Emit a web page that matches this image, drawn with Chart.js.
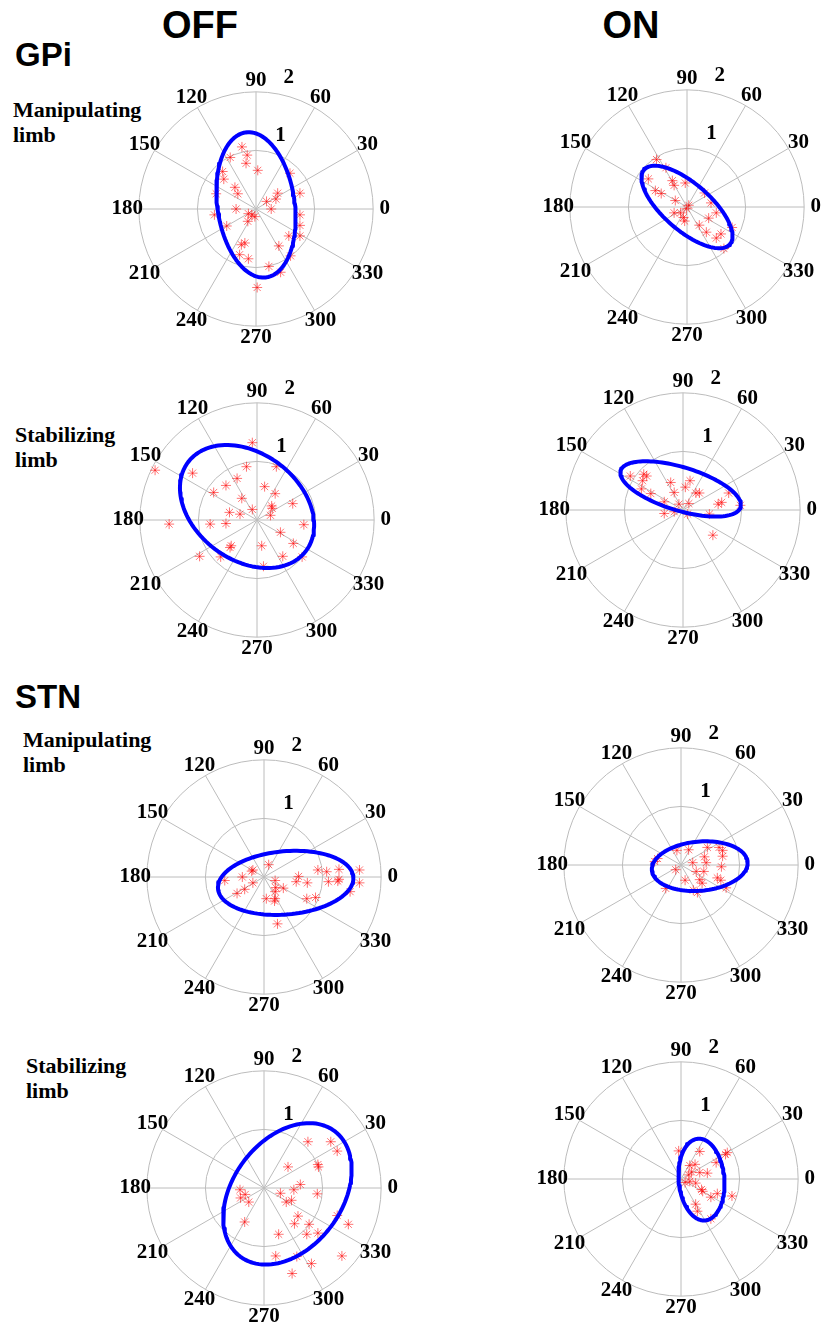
<!DOCTYPE html>
<html>
<head>
<meta charset="utf-8">
<script src="https://cdn.jsdelivr.net/npm/chart.js@4.4.1/dist/chart.umd.min.js"></script>
<style>
    body { margin: 0; background: #fff; }
    #page { position: relative; width: 827px; height: 1337px; overflow: hidden; }
    .panel { position: absolute; width: 340px; height: 340px; }
    .head { position: absolute; font-family: "Liberation Sans", Arial, sans-serif; font-weight: bold; line-height: 1; color: #000; }
    .side { position: absolute; font-family: "Liberation Serif", "Times New Roman", serif; font-weight: bold; font-size: 22px; line-height: 25px; color: #000; }
</style>
</head>
<body>
<div id="page">
    <div class="head" style="left:120px; top:6px; width:160px; text-align:center; font-size:38px;">OFF</div>
    <div class="head" style="left:551px; top:6px; width:160px; text-align:center; font-size:38px;">ON</div>
    <div class="head" style="left:15px; top:38px; font-size:33px;">GPi</div>
    <div class="head" style="left:15px; top:680px; font-size:33px;">STN</div>
    <div class="side" style="left:13px; top:97px;">Manipulating<br>limb</div>
    <div class="side" style="left:15px; top:422px;">Stabilizing<br>limb</div>
    <div class="side" style="left:23px; top:727px;">Manipulating<br>limb</div>
    <div class="side" style="left:26px; top:1053px;">Stabilizing<br>limb</div>

    <div class="panel" style="left:86px; top:39px;"><canvas id="gpiOffManip" width="340" height="340"></canvas></div>
    <div class="panel" style="left:517px; top:37px;"><canvas id="gpiOnManip" width="340" height="340"></canvas></div>
    <div class="panel" style="left:87px; top:350px;"><canvas id="gpiOffStab" width="340" height="340"></canvas></div>
    <div class="panel" style="left:513px; top:340px;"><canvas id="gpiOnStab" width="340" height="340"></canvas></div>
    <div class="panel" style="left:94px; top:707px;"><canvas id="stnOffManip" width="340" height="340"></canvas></div>
    <div class="panel" style="left:511px; top:695px;"><canvas id="stnOnManip" width="340" height="340"></canvas></div>
    <div class="panel" style="left:94px; top:1018px;"><canvas id="stnOffStab" width="340" height="340"></canvas></div>
    <div class="panel" style="left:511px; top:1009px;"><canvas id="stnOnStab" width="340" height="340"></canvas></div>
</div>
<script>
// polar axis ticks
const angleTicks = [0, 30, 60, 90, 120, 150, 180, 210, 240, 270, 300, 330];
const radiusTicks = [1, 2];
const rMax = 2;

// red stars: x / y components
// ellipse: [cx, cy, semi-major, semi-minor, tilt in degrees]
const gpiOffManipX = [-0.24, -0.15, -0.17, -0.44, -0.57, -0.55, 0.03, 0.58, 0.75, 0.37, 0.34, 0.18, 0.26, -0.36, -0.31, -0.68, -0.34, -0.13, -0.07, -0.02, -0.14, -0.71, -0.50, 0.75, 0.75, 0.75, 0.56, 0.39, -0.19, -0.25, -0.28, -0.13, 0.22, 0.42, 0.59, 0.02];
const gpiOffManipY = [1.06, 0.92, 0.78, 0.88, 0.64, 0.51, 0.66, 0.61, 0.27, 0.27, 0.17, 0.13, 0.00, 0.37, 0.26, 0.26, 0.00, -0.08, -0.10, -0.13, -0.21, -0.10, -0.29, -0.10, -0.28, -0.46, -0.46, -0.63, -0.58, -0.61, -0.78, -0.85, -0.98, -1.08, -0.80, -1.34];
const gpiOffManipEllipse = [0.0, 0.07, 1.25, 0.66, 98];

const gpiOnManipX = [-0.52, -0.66, -0.25, -0.22, -0.03, -0.54, -0.44, -0.20, 0.03, -0.01, -0.22, -0.11, -0.06, -0.04, 0.30, 0.41, 0.50, 0.37, 0.21, 0.33, 0.50, 0.58, 0.77, 0.63, -0.36];
const gpiOnManipY = [0.81, 0.48, 0.45, 0.37, 0.41, 0.28, 0.23, 0.11, 0.03, -0.03, -0.10, -0.10, -0.18, -0.24, 0.24, 0.07, -0.10, -0.19, -0.31, -0.43, -0.53, -0.46, -0.35, -0.71, 0.67];
const gpiOnManipEllipse = [0.0, 0.0, 0.97, 0.40, 139];

const gpiOffStabX = [-0.08, -1.74, -1.10, -0.18, -0.34, -0.53, -0.74, 0.13, 0.31, -0.26, 0.61, -0.08, 0.25, 0.26, 0.23, -0.47, -0.29, 0.33, -1.50, -0.80, -0.53, 0.80, 0.40, 0.62, -0.44, -0.46, 0.08, 0.44, 0.77, -0.98, -0.62, 0.11];
const gpiOffStabY = [1.32, 0.85, 0.80, 0.91, 0.71, 0.59, 0.47, 0.57, 0.45, 0.37, 0.28, 0.18, 0.24, 0.20, 0.08, 0.13, 0.10, 0.91, -0.07, -0.07, -0.06, -0.08, -0.21, -0.40, -0.44, -0.47, -0.44, -0.62, -0.63, -0.62, -0.63, -0.79];
const gpiOffStabEllipse = [-0.17, 0.23, 1.26, 0.91, 143];

const gpiOnStabX = [-0.90, -0.67, -0.62, -0.69, -0.71, -0.55, -0.21, -0.15, 0.12, 0.04, 0.22, 0.28, -0.32, -0.07, 0.10, -0.32, -0.15, 0.08, 0.45, 0.60, 0.66, 0.78, 0.98, 0.51];
const gpiOnStabY = [0.58, 0.61, 0.58, 0.50, 0.36, 0.28, 0.47, 0.30, 0.50, 0.39, 0.29, 0.29, 0.14, 0.10, 0.11, -0.06, -0.03, -0.07, -0.07, 0.10, 0.13, 0.29, 0.08, -0.43];
const gpiOnStabEllipse = [-0.04, 0.36, 1.07, 0.37, 163];

const stnOffManipX = [0.08, -0.21, -0.19, -0.37, -0.19, -0.33, -0.46, -0.67, 0.19, 0.20, 0.33, 0.19, 0.04, 0.19, 0.18, 0.59, 0.55, 0.74, 0.92, 1.07, 1.28, 1.10, 1.26, 1.63, 1.63, 1.47, 0.73, 0.88, 0.23, 1.28];
const stnOffManipY = [0.21, 0.10, 0.12, 0.00, -0.10, -0.21, -0.28, -0.06, -0.06, -0.18, -0.19, -0.25, -0.37, -0.37, -0.41, 0.01, -0.08, -0.10, 0.12, 0.09, 0.13, -0.08, -0.07, 0.12, -0.10, -0.25, -0.37, -0.35, -0.80, -0.04];
const stnOffManipEllipse = [0.37, -0.10, 1.16, 0.54, 5];

const stnOnManipX = [-0.07, 0.13, 0.45, 0.65, 0.71, 0.71, 0.40, 0.43, 0.20, 0.26, 0.39, 0.69, -0.09, -0.40, -0.45, 0.07, 0.32, 0.36, 0.62, 0.68, 0.77, 0.28, 0.21, -0.26];
const stnOnManipY = [0.25, 0.26, 0.30, 0.30, 0.25, 0.15, 0.14, 0.04, 0.04, -0.11, -0.11, -0.03, -0.08, 0.11, 0.06, -0.26, -0.25, -0.31, -0.22, -0.26, -0.39, -0.47, -0.43, -0.40];
const stnOnManipEllipse = [0.32, -0.02, 0.82, 0.42, 5];

const stnOffStabX = [0.75, 1.14, 1.25, 0.41, 0.92, 0.93, 0.62, 0.51, 0.28, 0.91, 0.38, 0.47, -0.41, -0.32, -0.40, -0.26, -0.33, 0.58, 0.52, 0.77, 0.73, 0.92, 1.25, 1.44, 0.25, 0.20, 0.56, 0.81, 0.48, 1.33];
const stnOffStabY = [0.79, 0.79, 0.63, 0.36, 0.40, 0.36, 0.06, -0.03, -0.09, -0.10, -0.24, -0.21, -0.03, -0.11, -0.17, -0.24, -0.58, -0.48, -0.61, -0.62, -0.79, -0.77, -0.47, -0.62, -0.79, -1.16, -1.17, -1.29, -1.46, -1.16];
const stnOffStabEllipse = [0.40, -0.10, 1.34, 0.93, 53];

const stnOnStabX = [-0.04, 0.32, 0.79, 0.76, 0.15, 0.24, 0.60, 0.18, 0.32, 0.45, 0.07, 0.15, 0.25, 0.35, 0.37, 0.51, 0.62, 0.87, 0.25, 0.28, 0.51, 0.13];
const stnOnStabY = [0.48, 0.47, 0.45, 0.42, 0.23, 0.25, 0.28, 0.12, 0.11, 0.10, -0.06, -0.04, -0.07, -0.18, -0.21, -0.31, -0.25, -0.29, -0.43, -0.55, -0.68, 0.07];
const stnOnStabEllipse = [0.35, -0.01, 0.70, 0.39, 95];

document.addEventListener('DOMContentLoaded', function () {

    // MATLAB style polar grid: two rings, spokes every 30 deg, angle + radius labels
    const polarGrid = {
        id: 'polarGrid',
        beforeDatasetsDraw(chart) {
            const ctx = chart.ctx;
            const xs = chart.scales.x;
            const ys = chart.scales.y;
            const cx = xs.getPixelForValue(0);
            const cy = ys.getPixelForValue(0);
            const unit = xs.getPixelForValue(1) - cx;

            ctx.save();
            ctx.strokeStyle = '#bcbcbc';
            ctx.lineWidth = 1;
            radiusTicks.forEach(r => {
                ctx.beginPath();
                ctx.arc(cx, cy, r * unit, 0, 2 * Math.PI);
                ctx.stroke();
            });
            for (let a = 0; a < 180; a += 30) {
                const rad = a * Math.PI / 180;
                ctx.beginPath();
                ctx.moveTo(xs.getPixelForValue(-rMax * Math.cos(rad)), ys.getPixelForValue(-rMax * Math.sin(rad)));
                ctx.lineTo(xs.getPixelForValue(rMax * Math.cos(rad)), ys.getPixelForValue(rMax * Math.sin(rad)));
                ctx.stroke();
            }

            ctx.fillStyle = '#000';
            ctx.font = 'bold 21px "Liberation Serif", "Times New Roman", serif';
            ctx.textAlign = 'center';
            ctx.textBaseline = 'middle';
            angleTicks.forEach(a => {
                const rad = a * Math.PI / 180;
                ctx.fillText(String(a), xs.getPixelForValue(1.1 * rMax * Math.cos(rad)), ys.getPixelForValue(1.1 * rMax * Math.sin(rad)));
            });

            const r82 = 82 * Math.PI / 180;
            ctx.textAlign = 'left';
            ctx.textBaseline = 'bottom';
            radiusTicks.forEach(r => {
                ctx.fillText('  ' + r, xs.getPixelForValue((r + 0.08) * Math.cos(r82)), ys.getPixelForValue((r + 0.08) * Math.sin(r82)));
            });
            ctx.restore();
        }
    };

    function ellipsePoints(e) {
        const cx = e[0], cy = e[1], a = e[2], b = e[3];
        const tilt = e[4] * Math.PI / 180;
        const pts = [];
        for (let i = 0; i <= 121; i++) {
            const t = i / 120 * 2 * Math.PI;
            pts.push({
                x: cx + a * Math.cos(t) * Math.cos(tilt) - b * Math.sin(t) * Math.sin(tilt),
                y: cy + a * Math.cos(t) * Math.sin(tilt) + b * Math.sin(t) * Math.cos(tilt)
            });
        }
        return pts;
    }

    function drawPanel(id, xs, ys, ellipse) {
        const points = xs.map((x, i) => ({ x: x, y: ys[i] }));
        new Chart(document.getElementById(id).getContext('2d'), {
            type: 'scatter',
            data: {
                datasets: [{
                    data: ellipsePoints(ellipse),
                    showLine: true,
                    borderColor: '#0000ff',
                    borderWidth: 4,
                    borderCapStyle: 'round',
                    borderJoinStyle: 'round',
                    pointRadius: 0,
                    fill: false,
                    tension: 0
                }, {
                    data: points,
                    pointStyle: 'star',
                    pointRadius: 5,
                    borderWidth: 1,
                    borderColor: 'rgba(255, 0, 0, 0.55)',
                    backgroundColor: 'rgba(255, 0, 0, 0.55)'
                }]
            },
            options: {
                responsive: false,
                animation: false,
                events: [],
                layout: { padding: 0 },
                plugins: {
                    legend: { display: false },
                    tooltip: { enabled: false }
                },
                scales: {
                    x: { type: 'linear', min: -2.8, max: 2.8, display: false },
                    y: { type: 'linear', min: -2.8, max: 2.8, display: false }
                }
            },
            plugins: [polarGrid]
        });
    }

    drawPanel('gpiOffManip', gpiOffManipX, gpiOffManipY, gpiOffManipEllipse);
    drawPanel('gpiOnManip', gpiOnManipX, gpiOnManipY, gpiOnManipEllipse);
    drawPanel('gpiOffStab', gpiOffStabX, gpiOffStabY, gpiOffStabEllipse);
    drawPanel('gpiOnStab', gpiOnStabX, gpiOnStabY, gpiOnStabEllipse);
    drawPanel('stnOffManip', stnOffManipX, stnOffManipY, stnOffManipEllipse);
    drawPanel('stnOnManip', stnOnManipX, stnOnManipY, stnOnManipEllipse);
    drawPanel('stnOffStab', stnOffStabX, stnOffStabY, stnOffStabEllipse);
    drawPanel('stnOnStab', stnOnStabX, stnOnStabY, stnOnStabEllipse);
});
</script>
</body>
</html>
